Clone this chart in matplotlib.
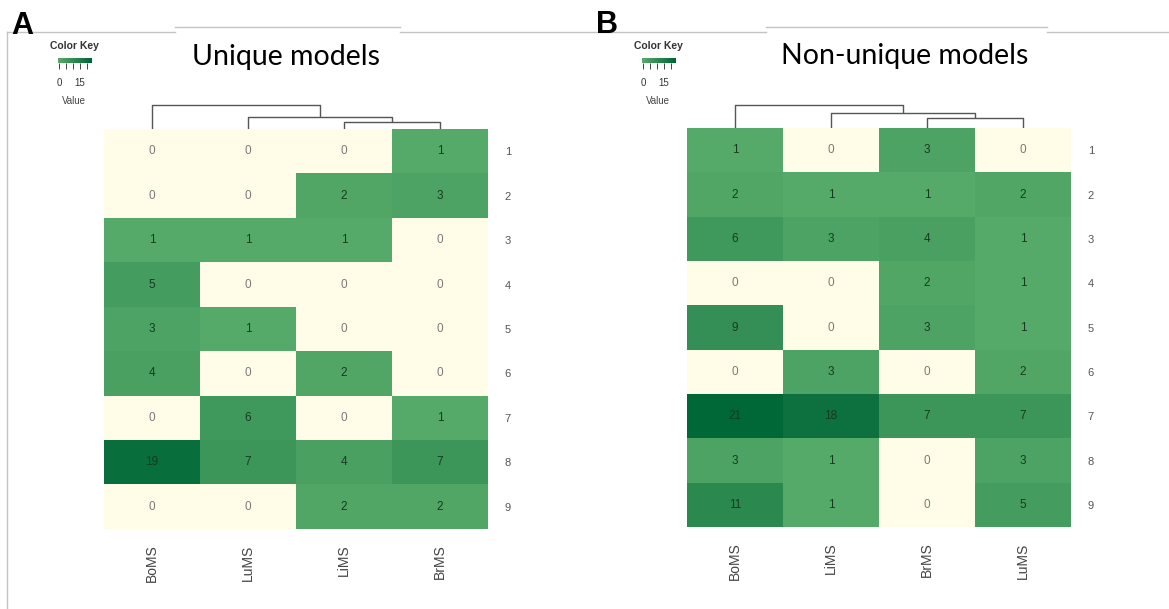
import numpy as np
import matplotlib
matplotlib.use("Agg")
import matplotlib.pyplot as plt
from matplotlib.colors import ListedColormap, BoundaryNorm
from matplotlib.lines import Line2D

# ---------------- data ----------------
rows = ["1", "2", "3", "4", "5", "6", "7", "8", "9"]

cols_a = ["BoMS", "LuMS", "LiMS", "BrMS"]
vals_a = [
    [0, 0, 0, 1],
    [0, 0, 2, 3],
    [1, 1, 1, 0],
    [5, 0, 0, 0],
    [3, 1, 0, 0],
    [4, 0, 2, 0],
    [0, 6, 0, 1],
    [19, 7, 4, 7],
    [0, 0, 2, 2],
]
# dendrogram merges: (left node, right node, height); leaves 0..3, new nodes 4,5,6
merges_a = [(2, 3, 7), (1, 4, 12), (0, 5, 24)]

cols_b = ["BoMS", "LiMS", "BrMS", "LuMS"]
vals_b = [
    [1, 0, 3, 0],
    [2, 1, 1, 2],
    [6, 3, 4, 1],
    [0, 0, 2, 1],
    [9, 0, 3, 1],
    [0, 3, 0, 2],
    [21, 18, 7, 7],
    [3, 1, 0, 3],
    [11, 1, 0, 5],
]
merges_b = [(2, 3, 10), (1, 4, 15), (0, 5, 23)]

titles = ["Unique models", "Non-unique models"]
letters = ["A", "B"]
key_ticks = [0, 5, 10, 15, 20]
key_labels = ["0", "", "", "15", ""]

# ---------------- styling ----------------
W, H = 1169, 609
fig = plt.figure(figsize=(W / 100, H / 100), dpi=100)
fig.patch.set_facecolor("white")

def fx(px):
    return px / W

def fy(py):
    return 1 - py / H

VMAX = 21
cream = np.array([0xFF, 0xFD, 0xE7]) / 255
g_lo = np.array([0x56, 0xAA, 0x69]) / 255
g_hi = np.array([0x00, 0x68, 0x37]) / 255
greens = [g_lo + (g_hi - g_lo) * t for t in np.linspace(0, 1, VMAX)]
cmap = ListedColormap([cream] + greens)
norm = BoundaryNorm(np.arange(-0.5, VMAX + 1.5, 1), cmap.N)
key_cmap = ListedColormap(greens)

FONT = ["Liberation Sans", "DejaVu Sans"]

# frame lines
frame_col = "#c4c4c4"
segs = [
    ((7, 32), (7, 609)),
    ((7, 32), (175, 32)),
    ((175, 27), (400, 27)),
    ((400, 32), (766, 32)),
    ((766, 27), (1047, 27)),
    ((1047, 32), (1169, 32)),
]
for (x0, y0), (x1, y1) in segs:
    fig.add_artist(Line2D([fx(x0), fx(x1)], [fy(y0), fy(y1)], color=frame_col, lw=1.0))

panels = [
    dict(vals=vals_a, cols=cols_a, merges=merges_a, left=104, top=129, bottom=529,
         title_x=286, title_y=65, letter_x=11, letter_y=34, key_x=58, key_y=58),
    dict(vals=vals_b, cols=cols_b, merges=merges_b, left=687, top=128, bottom=527,
         title_x=905, title_y=64, letter_x=596, letter_y=33, key_x=642, key_y=58),
]

for i, p in enumerate(panels):
    data = np.array(p["vals"])
    width = 384
    ax = fig.add_axes([fx(p["left"]), fy(p["bottom"]), width / W, (p["bottom"] - p["top"]) / H])
    ax.imshow(data, cmap=cmap, norm=norm, aspect="auto", interpolation="nearest")
    ax.set_xlim(-0.5, 3.5)
    ax.set_ylim(8.5, -0.5)
    for r in range(data.shape[0]):
        for c in range(data.shape[1]):
            v = data[r, c]
            ax.text(c, r, str(v), ha="center", va="center", fontsize=8.5,
                    family=FONT, color="#7a7a7a" if v == 0 else "#183a20")
    for s in ax.spines.values():
        s.set_visible(False)
    ax.yaxis.tick_right()
    ax.set_yticks(range(len(rows)))
    ax.set_yticklabels(rows, fontsize=8, color="#555555", family=FONT)
    ax.set_xticks(range(len(p["cols"])))
    ax.set_xticklabels(p["cols"], rotation=90, fontsize=10, color="#444444", family=FONT)
    ax.tick_params(length=0)
    ax.tick_params(axis="y", pad=12)
    ax.tick_params(axis="x", pad=11)

    # dendrogram
    dax = fig.add_axes([fx(p["left"]), fy(p["top"]), width / W, 30 / H])
    dax.set_xlim(-0.5, 3.5)
    dax.set_ylim(0, 30)
    dax.axis("off")
    xs = {k: float(k) for k in range(4)}
    hs = {k: 0.0 for k in range(4)}
    nid = 4
    for a, b, h in p["merges"]:
        dax.plot([xs[a], xs[a], xs[b], xs[b]], [hs[a], h, h, hs[b]],
                 color="#555555", lw=1.0, solid_capstyle="butt")
        xs[nid] = (xs[a] + xs[b]) / 2
        hs[nid] = h
        nid += 1

    # title
    fig.text(fx(p["title_x"]), fy(p["title_y"]), titles[i], ha="center", va="baseline",
             fontsize=20.5, family=["Lato", "DejaVu Sans"], color="black")
    # panel letter
    fig.text(fx(p["letter_x"]), fy(p["letter_y"]), letters[i], ha="left", va="baseline",
             fontsize=22, fontweight="bold", family=FONT, color="black")

    # color key
    kx, ky = p["key_x"], p["key_y"]
    kax = fig.add_axes([fx(kx), fy(ky + 5), 34 / W, 5 / H])
    kax.imshow(np.linspace(1, VMAX, 64)[None, :], cmap=key_cmap, aspect="auto",
               extent=[-0.7, 23.6, 0, 1])
    kax.set_xlim(-0.7, 23.6)
    kax.set_yticks([])
    for s in kax.spines.values():
        s.set_visible(False)
    kax.set_xticks(key_ticks)
    kax.set_xticklabels(key_labels, fontsize=7, color="#333333", family=FONT)
    kax.tick_params(axis="x", length=4, width=0.7, color="#444444", pad=7)
    fig.text(fx(kx + 16), fy(ky - 12), "Color Key", ha="center", va="center",
             fontsize=7.5, fontweight="bold", color="#333333", family=FONT)
    fig.text(fx(kx + 16), fy(ky + 43), "Value", ha="center", va="center",
             fontsize=7, color="#444444", family=FONT)

fig.savefig("out.png", dpi=100, facecolor="white")
